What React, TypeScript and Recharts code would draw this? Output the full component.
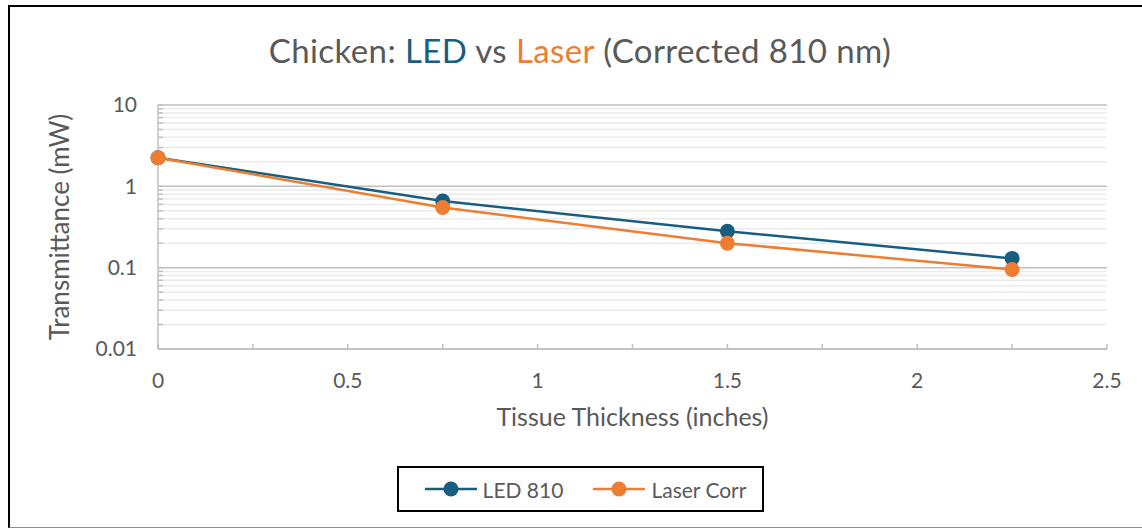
import React from 'react';
import { LineChart, Line, XAxis, YAxis, CartesianGrid, Legend, Label } from 'recharts';

const thickness = [0, 0.75, 1.5, 2.25];
const ledValues = [2.25, 0.66, 0.28, 0.13];
const laserValues = [2.25, 0.55, 0.2, 0.095];

const xTicks = [0, 0.25, 0.5, 0.75, 1, 1.25, 1.5, 1.75, 2, 2.25, 2.5];
const xLabels = ['0', '0.5', '1', '1.5', '2', '2.5'];
const yMajor = [0.01, 0.1, 1, 10];
const yMinor = [
  0.02, 0.03, 0.04, 0.05, 0.06, 0.07, 0.08, 0.09,
  0.2, 0.3, 0.4, 0.5, 0.6, 0.7, 0.8, 0.9,
  2, 3, 4, 5, 6, 7, 8, 9,
];

const LED_COLOR = '#185E82';
const LASER_COLOR = '#ED7D31';
const TEXT_COLOR = '#595959';
const FONT = 'Lato, "Open Sans", sans-serif';

const data = thickness.map((t, i) => ({ t, led: ledValues[i], laser: laserValues[i] }));
const yTicks = [...yMajor, ...yMinor].sort((a, b) => a - b);

const LegendBox = (props: any) => {
  const items = props.payload || [];
  return (
    <div
      style={{
        boxSizing: 'border-box',
        width: 367,
        height: 46,
        border: '2px solid #000',
        display: 'flex',
        alignItems: 'center',
        justifyContent: 'center',
        gap: 30,
        paddingLeft: 10,
        fontFamily: FONT,
        fontSize: 21,
        color: TEXT_COLOR,
        background: '#fff',
      }}
    >
      {items.map((it: any) => (
        <div key={it.value} style={{ display: 'flex', alignItems: 'center' }}>
          <svg width={52} height={16} style={{ marginRight: 6 }}>
            <line x1={0} y1={8} x2={52} y2={8} stroke={it.color} strokeWidth={2.5} />
            <circle cx={26} cy={8} r={7.5} fill={it.color} />
          </svg>
          <span>{it.value}</span>
        </div>
      ))}
    </div>
  );
};

export default function App() {
  return (
    <div
      style={{
        position: 'absolute',
        left: 8,
        top: 5,
        width: 1132,
        height: 520,
        borderTop: '2px solid #000',
        borderLeft: '2px solid #000',
        borderBottom: '1px solid #8c8c8c',
        overflow: 'hidden',
        background: '#fff',
      }}
    >
      <div
        style={{
          position: 'absolute',
          top: 24,
          left: 4,
          width: 1132,
          textAlign: 'center',
          fontFamily: FONT,
          fontSize: 33,
          letterSpacing: 0.4,
          lineHeight: '38px',
          color: TEXT_COLOR,
        }}
      >
        Chicken: <span style={{ color: LED_COLOR }}>LED</span> vs{' '}
        <span style={{ color: LASER_COLOR }}>Laser</span> (Corrected 810 nm)
      </div>
      <LineChart
        width={1132}
        height={520}
        data={data}
        margin={{ top: 98, right: 35, left: 0, bottom: 98 }}
        style={{ fontFamily: FONT }}
      >
        <CartesianGrid horizontalValues={yMinor} vertical={false} stroke="#ebebeb" strokeWidth={1.5} />
        <CartesianGrid horizontalValues={yMajor} vertical={false} stroke="#bfbfbf" strokeWidth={1.5} />
        <XAxis
          dataKey="t"
          type="number"
          domain={[0, 2.5]}
          ticks={xTicks}
          interval={0}
          height={80}
          tickFormatter={(v: number) => (xLabels.includes(String(v)) ? String(v) : '')}
          tick={{ fill: TEXT_COLOR, fontSize: 21 }}
          tickSize={-5}
          tickMargin={29}
          stroke="#bfbfbf"
          strokeWidth={1.5}
        >
          <Label
            value="Tissue Thickness (inches)"
            position="insideBottom"
            offset={3}
            style={{ fill: TEXT_COLOR, fontSize: 25 }}
          />
        </XAxis>
        <YAxis
          type="number"
          scale="log"
          domain={[0.01, 10]}
          ticks={yTicks}
          interval={0}
          width={148}
          allowDataOverflow
          tickFormatter={(v: number) => (yMajor.includes(v) ? String(v) : '')}
          tick={{ fill: TEXT_COLOR, fontSize: 21 }}
          tickSize={-5}
          tickMargin={26}
          stroke="#bfbfbf"
          strokeWidth={1.5}
        >
          <Label
            value="Transmittance (mW)"
            angle={-90}
            position="insideLeft"
            offset={50}
            style={{ fill: TEXT_COLOR, fontSize: 26, textAnchor: 'middle' }}
          />
        </YAxis>
        <Legend
          verticalAlign="middle"
          align="center"
          content={<LegendBox />}
          wrapperStyle={{ top: 459, left: 387, width: 367, height: 46 }}
        />
        <Line
          name="LED 810"
          dataKey="led"
          stroke={LED_COLOR}
          strokeWidth={2.5}
          dot={{ r: 7.5, fill: LED_COLOR, stroke: 'none' }}
          isAnimationActive={false}
        />
        <Line
          name="Laser Corr"
          dataKey="laser"
          stroke={LASER_COLOR}
          strokeWidth={2.5}
          dot={{ r: 7.5, fill: LASER_COLOR, stroke: 'none' }}
          isAnimationActive={false}
        />
      </LineChart>
    </div>
  );
}
